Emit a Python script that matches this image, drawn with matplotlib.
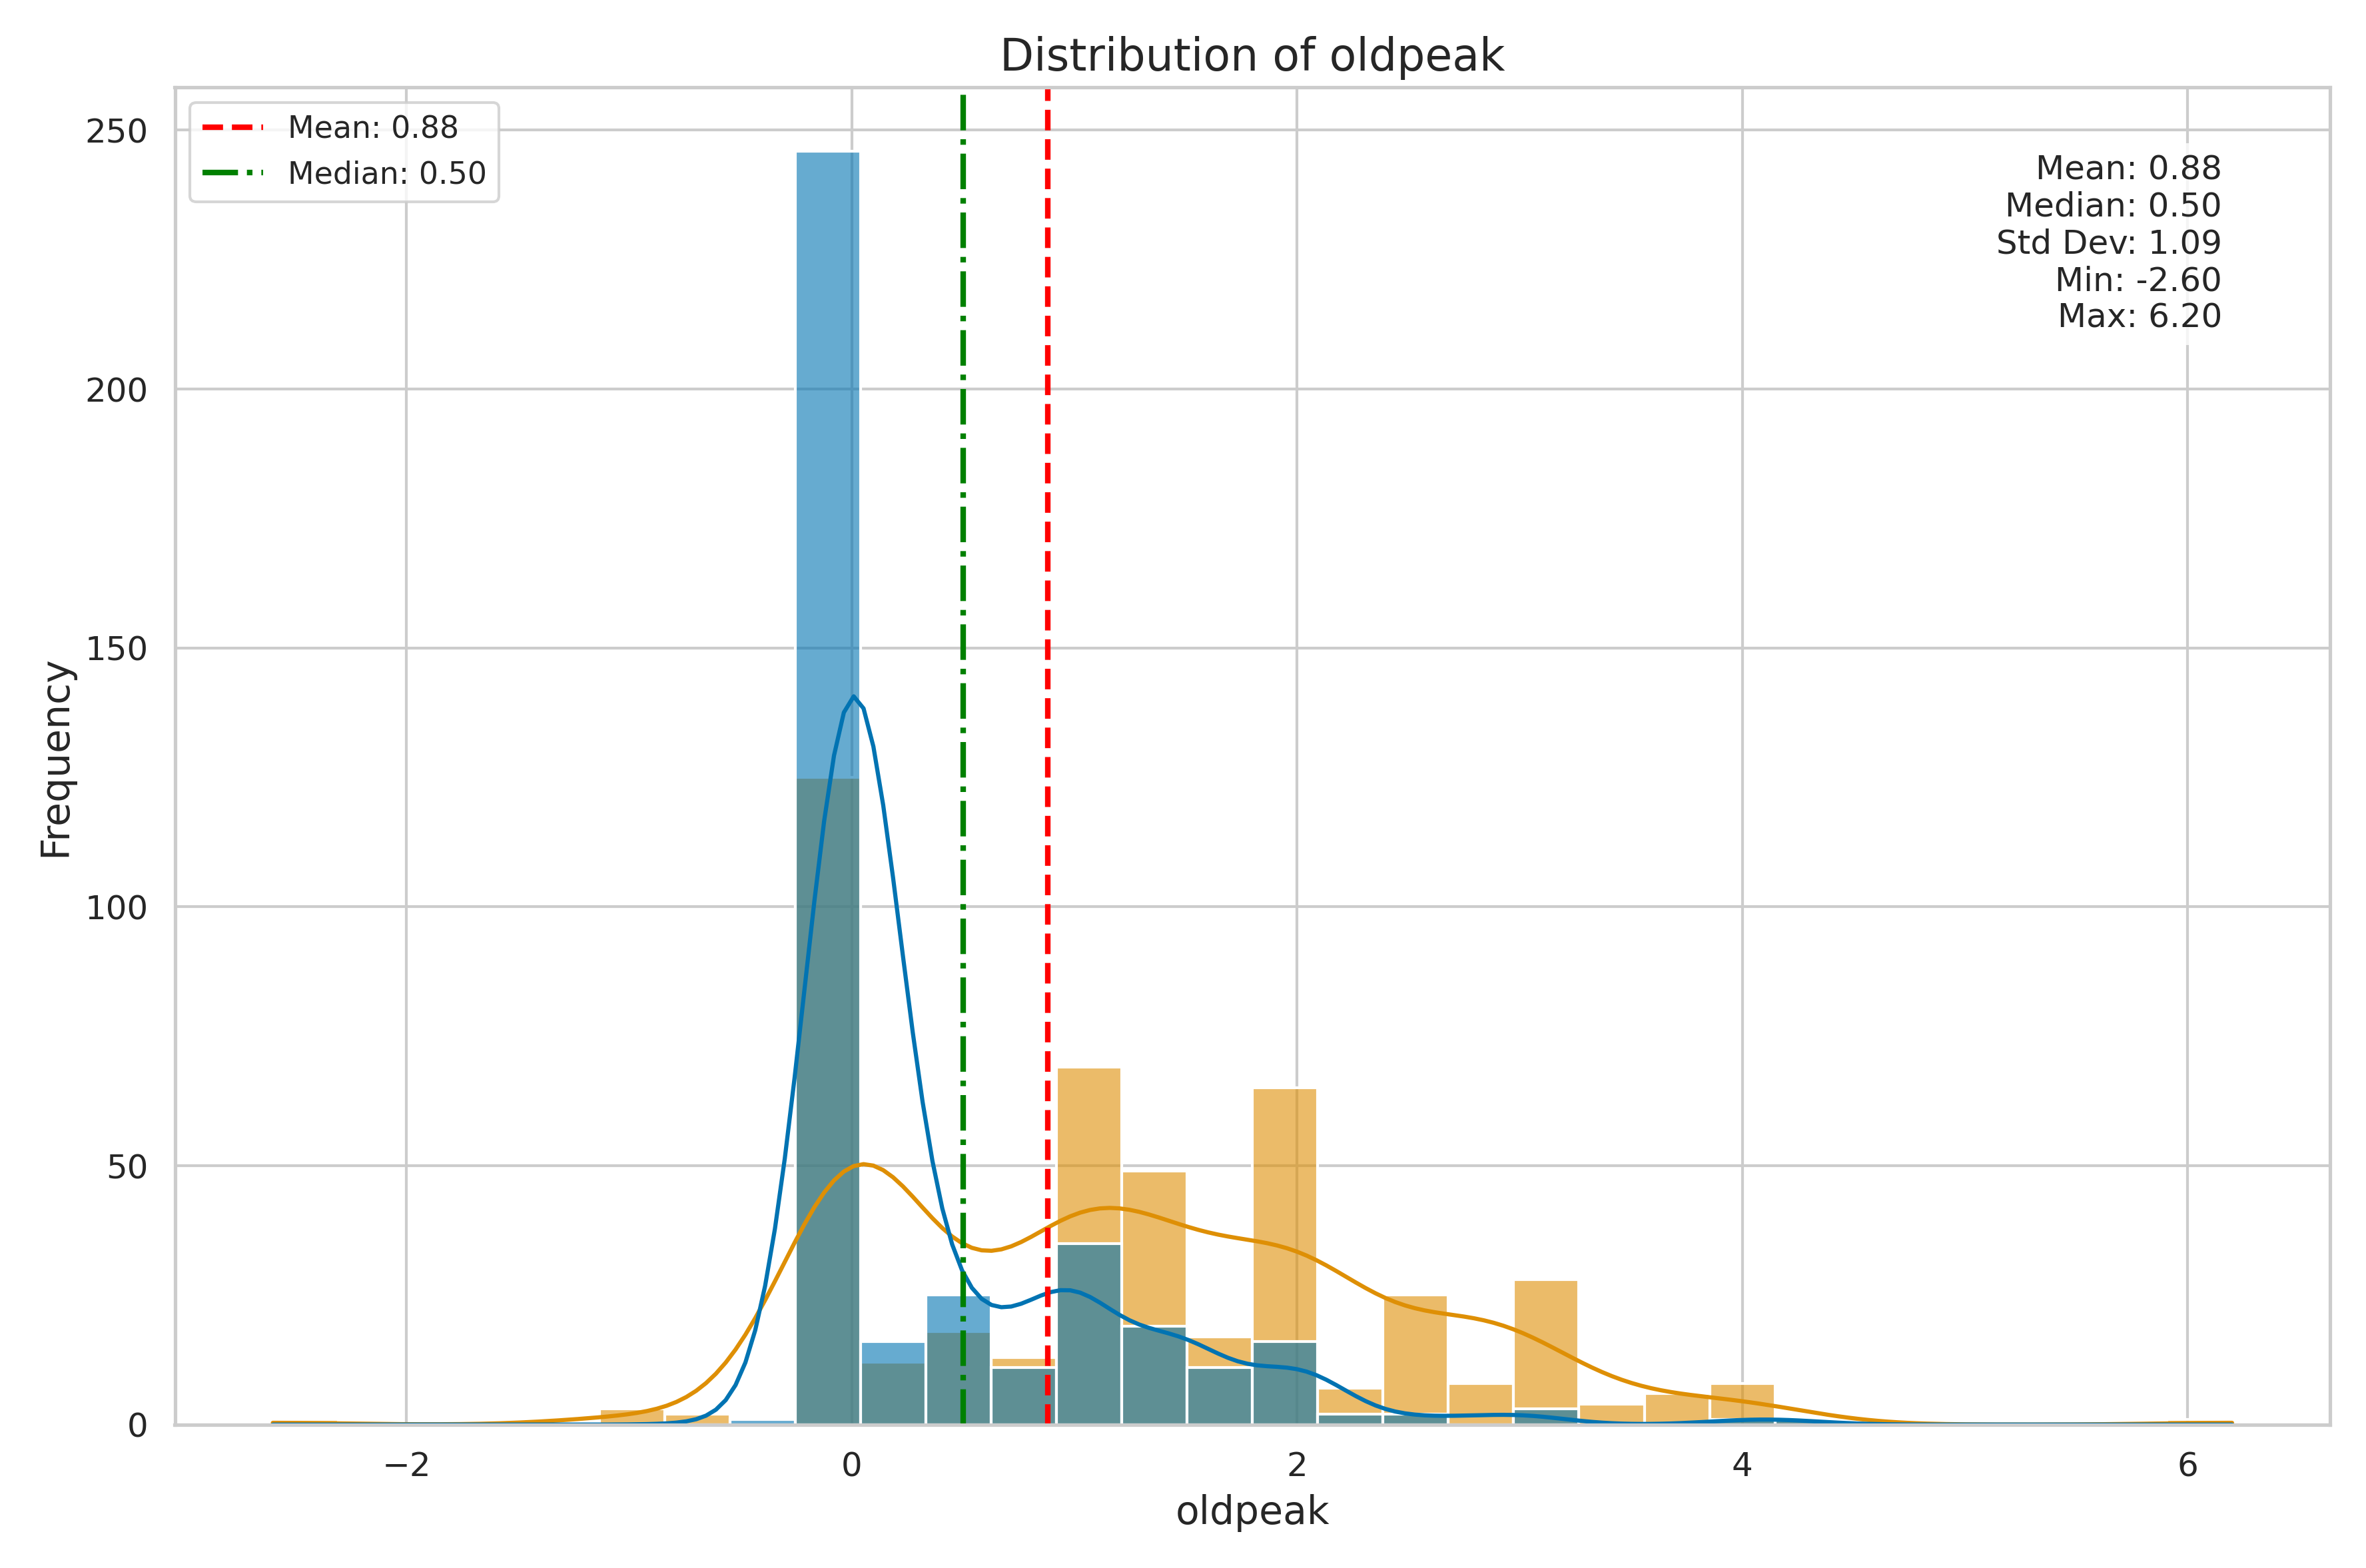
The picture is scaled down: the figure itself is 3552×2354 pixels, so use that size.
import numpy as np
import pandas as pd
import matplotlib
matplotlib.use("Agg")
import matplotlib.pyplot as plt
import seaborn as sns

# representative oldpeak value for each occupied bin
values = [-2.6, -1.0, -0.7, -0.5, 0.0, 0.2, 0.5, 0.8, 1.0, 1.4, 1.6, 2.0, 2.2, 2.6, 2.8, 3.0, 3.4, 3.6, 4.0, 4.2, 6.2]
counts_group0 = [0, 0, 0, 1, 246, 16, 25, 11, 35, 19, 11, 16, 2, 2, 0, 3, 0, 0, 1, 1, 0]
counts_group1 = [1, 3, 2, 0, 125, 12, 18, 13, 69, 49, 17, 65, 7, 25, 8, 28, 4, 6, 8, 1, 1]
stat_mean, stat_median, stat_std, stat_min, stat_max = 0.88, 0.50, 1.09, -2.60, 6.20

x = np.concatenate([np.repeat(values, counts_group0), np.repeat(values, counts_group1)])
g = np.concatenate([np.repeat(0, sum(counts_group0)), np.repeat(1, sum(counts_group1))])
df = pd.DataFrame({"oldpeak": x, "target": g})

sns.set_theme(style="whitegrid")
fig, ax = plt.subplots(figsize=(11.84, 7.847), dpi=300)
sns.histplot(data=df, x="oldpeak", hue="target", bins=30, binrange=(-2.6, 6.2),
             kde=True, alpha=0.6, palette=["#0173b2", "#de8f05"], ax=ax, legend=False)
ax.axvline(stat_mean, color="red", ls="--", lw=2, label=f"Mean: {stat_mean:.2f}")
ax.axvline(stat_median, color="green", ls="-.", lw=2, label=f"Median: {stat_median:.2f}")
ax.legend(loc="upper left", fontsize=11)
ax.set_title("Distribution of oldpeak", fontsize=16)
ax.set_xlabel("oldpeak", fontsize=14)
ax.set_ylabel("Frequency", fontsize=14)
ax.tick_params(labelsize=12)
txt = (f"Mean: {stat_mean:.2f}\nMedian: {stat_median:.2f}\nStd Dev: {stat_std:.2f}\n"
       f"Min: {stat_min:.2f}\nMax: {stat_max:.2f}")
ax.text(0.95, 0.95, txt, transform=ax.transAxes, ha="right", va="top", fontsize=12,
        bbox=dict(facecolor="white", edgecolor="none", alpha=0.8))
fig.tight_layout()
fig.savefig("out.png", dpi=300)
